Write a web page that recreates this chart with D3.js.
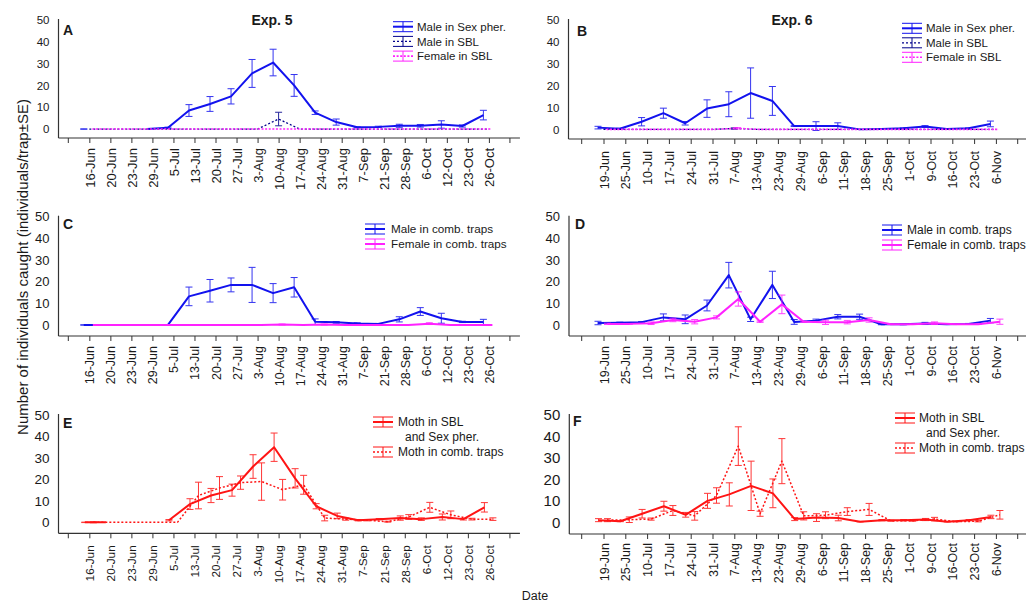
<!DOCTYPE html>
<html>
<head>
<meta charset="utf-8">
<script src="https://cdn.jsdelivr.net/npm/d3@7"></script>
<style>
  body { margin: 0; background: #fff; }
  svg { display: block; }
  text { font-family: "Liberation Sans", Arial, sans-serif; fill: #1a1a1a; }
</style>
</head>
<body>
<svg id="chart" width="1026" height="602"></svg>
<script>
// Sampling dates (categorical x axes)
const exp5Dates = ["16-Jun","20-Jun","23-Jun","29-Jun","5-Jul","13-Jul","20-Jul","27-Jul","3-Aug","10-Aug",
                   "17-Aug","24-Aug","31-Aug","7-Sep","21-Sep","28-Sep","6-Oct","12-Oct","23-Oct","26-Oct"];
const exp6Dates = ["19-Jun","25-Jun","10-Jul","17-Jul","24-Jul","31-Jul","7-Aug","13-Aug","23-Aug","29-Aug",
                   "6-Sep","11-Sep","18-Sep","25-Sep","1-Oct","9-Oct","16-Oct","23-Oct","6-Nov"];
const yTicks = [0, 10, 20, 30, 40, 50];

// Exp. 5 – single-bait traps (A)
const aMalePher     = [0, null, null, 0, 0.6, 8.5, 11.5, 15, 25.5, 30.5, 20, 7.5, 3.2, 0.8, 1, 1.5, 1.5, 2.1, 1.4, 6.4];
const aMalePherSE   = [0.1, 0, 0, 0, 0.3, 2.7, 3.4, 3.5, 6.4, 6.1, 5, 0.8, 1.4, 0.2, 0.3, 0.7, 0.6, 1.7, 0.5, 2.2];
const aMaleSBL      = [0, 0, 0, 0, 0, 0, 0, 0, 0, 4.6, 0, 0, 0, 0, 0, 0, 0, 0, 0, 0];
const aMaleSBLSE    = [0, 0, 0, 0, 0, 0, 0, 0, 0, 3.1, 0, 0, 0, 0, 0, 0, 0, 0, 0, 0];
const aFemaleSBL    = [0, 0, 0, 0, 0, 0, 0, 0, 0, 0, 0, 0, 0, 0, 0, 0, 0, 0, 0, 0];
const aFemaleSBLSE  = [0, 0, 0, 0, 0, 0, 0, 0, 0, 0, 0, 0, 0, 0, 0, 0, 0, 0, 0, 0];

// Exp. 6 – single-bait traps (B)
const bMalePher     = [0.8, 0.3, 3.5, 7.4, 2.8, 9.5, 11.5, 16.6, 13, 1.5, 1.5, 1.5, 0, 0.2, 0.5, 1.3, 0.2, 0.5, 2.5];
const bMalePherSE   = [0.6, 0.2, 1.9, 2.3, 0.8, 4, 5.7, 11.5, 6.6, 0.2, 2, 1.5, 0, 0.1, 0.2, 0.4, 0.1, 0.2, 1.3];
const bMaleSBL      = [0, 0, 0, 0, 0, 0, 0.4, 0, 0, 0, 0, 0, 0, 0, 0, 0, 0, 0, 0];
const bMaleSBLSE    = [0, 0, 0, 0, 0, 0, 0.3, 0, 0, 0, 0, 0, 0, 0, 0, 0, 0, 0, 0];
const bFemaleSBL    = [0, 0, 0, 0, 0, 0, 0.5, 0, 0, 0, 0, 0, 0, 0, 0, 0, 0, 0, 0];
const bFemaleSBLSE  = [0, 0, 0, 0, 0, 0, 0.3, 0, 0, 0, 0, 0, 0, 0, 0, 0, 0, 0, 0];

// Exp. 5 – combination traps (C)
const cMaleComb     = [0, 0, 0, 0, 0, 13.2, 15.8, 18.5, 18.5, 14.7, 17.4, 1.5, 1.2, 0.7, 0.5, 2.6, 6.2, 3.1, 1.4, 1.4];
const cMaleCombSE   = [0.1, 0, 0, 0, 0, 4.3, 5.2, 3.2, 8.1, 4.4, 4.5, 1.3, 0.4, 0.3, 0.2, 1.2, 1.8, 2.3, 0.3, 1.2];
const cFemaleComb   = [0, 0, 0, 0, 0, 0, 0, 0, 0, 0.2, 0, 0.2, 0, 0, 0, 0, 0.6, 0, 0, 0];
const cFemaleCombSE = [0, 0, 0, 0, 0, 0, 0, 0, 0, 0.2, 0, 0.2, 0, 0, 0, 0, 0.4, 0, 0, 0];

// Exp. 6 – combination traps (D)
const dMaleComb     = [0.9, 1, 1.3, 3.5, 2.6, 9, 23, 2.6, 18.5, 1.4, 2, 3.8, 3.8, 0.3, 0.3, 0.7, 0.3, 0.5, 2];
const dMaleCombSE   = [0.8, 0.3, 0.3, 1.6, 2, 2.5, 5.9, 1, 6.3, 1.1, 0.7, 1, 1.2, 0.2, 0.2, 0.5, 0.1, 0.2, 1];
const dFemaleComb   = [0.5, 0.5, 0.8, 2.3, 1.5, 3.5, 12, 1.5, 9.5, 1.5, 1.2, 1.3, 2.3, 0.3, 0.3, 0.8, 0.3, 0.3, 1.5];
const dFemaleCombSE = [0.3, 0.2, 0.6, 0.8, 1, 0.7, 3.3, 0.3, 4.3, 0.3, 1, 0.8, 1, 0.1, 0.1, 0.6, 0.1, 0.1, 1.2];

// Exp. 5 – all moths (E)
const eMothSBLPher   = [0, 0, null, null, 1, 8.5, 12.5, 15, 26, 35, 20.5, 7.5, 3, 1, 1.5, 2, 1.5, 2.5, 1.5, 7];
const eMothSBLPherSE = [0.1, 0, 0, 0, 0.3, 2.5, 3.3, 2.8, 5.5, 6.6, 4.5, 1.2, 1.3, 0.3, 0.3, 1, 0.6, 1.4, 0.4, 2.2];
const eMothComb      = [0, 0, 0, 0, 0, 12.5, 16, 18.5, 19, 15.2, 17.5, 2, 1.5, 1, 0.3, 2.5, 7, 3.5, 1.5, 1.5];
const eMothCombSE    = [0.2, 0, 0, 0, 0, 6.2, 5.3, 3.1, 8.7, 4.8, 4.4, 1.3, 0.5, 0.3, 0.2, 1.1, 2.3, 1.8, 0.4, 0.6];

// Exp. 6 – all moths (F)
const fMothSBLPher   = [1, 0.5, 4, 7.5, 3.5, 10, 13, 17, 13.5, 1.5, 2.2, 2, 0.3, 1, 1, 1.3, 0.3, 1, 2.5];
const fMothSBLPherSE = [0.7, 0.2, 2, 2.3, 1.1, 3.5, 5.4, 11.5, 6.7, 0.7, 1.8, 1.3, 0.1, 0.3, 0.3, 0.5, 0.1, 0.3, 0.8];
const fMothComb      = [1, 1.2, 1.5, 5.5, 3, 12.5, 35.5, 4, 28.5, 3, 3.3, 5, 6, 0.7, 0.7, 1.5, 0.3, 0.5, 3.5];
const fMothCombSE    = [0.7, 1.3, 0.5, 2.3, 2, 3.6, 9, 1.2, 10.5, 1.9, 1.6, 1.8, 2.8, 0.2, 0.2, 0.8, 0.1, 0.3, 2];

// Colours
const BLUE = "#1212ee", NAVY = "#00008c", PINK = "#ff22ff", RED = "#ff1414";

const svg = d3.select("#chart");

const panels = [
  { letter: "A", lx: 63, ly: 35, title: "Exp. 5", tx: 272, dates: exp5Dates,
    axisX: 58.5, tick0: 68.3, step: 21.03, top: 20, bottom: 138, yMin: -4.1, yFont: 11.5, xFont: 13, labelGap: 10,
    legend: { x: 393, y: 26.7, text: 417, gap: 14.7, font: 11.5 },
    series: [
      { lines: ["Male in Sex pher."], v: aMalePher, se: aMalePherSE, color: BLUE, dash: null, w: 2, dx: -5.5 },
      { lines: ["Male in SBL"], v: aMaleSBL, se: aMaleSBLSE, color: NAVY, dash: "2,2", w: 1.3, dx: 0 },
      { lines: ["Female in SBL"], v: aFemaleSBL, se: aFemaleSBLSE, color: PINK, dash: "2,1.6", w: 1.6, dx: 3 }
    ] },
  { letter: "B", lx: 577, ly: 36, title: "Exp. 6", tx: 792, dates: exp6Dates,
    axisX: 568.5, tick0: 581.7, step: 21.8, top: 20, bottom: 139, yMin: -4.4, yFont: 11.5, xFont: 12.5, labelGap: 12,
    legend: { x: 902, y: 28.3, text: 926, gap: 14.5, font: 11.5 },
    series: [
      { lines: ["Male in Sex pher."], v: bMalePher, se: bMalePherSE, color: BLUE, dash: null, w: 2, dx: -5.5 },
      { lines: ["Male in SBL"], v: bMaleSBL, se: bMaleSBLSE, color: NAVY, dash: "2,2", w: 1.3, dx: 0 },
      { lines: ["Female in SBL"], v: bFemaleSBL, se: bFemaleSBLSE, color: PINK, dash: "2,1.6", w: 1.6, dx: 3 }
    ] },
  { letter: "C", lx: 63, ly: 229, dates: exp5Dates,
    axisX: 58.5, tick0: 68.3, step: 21.03, top: 216.7, bottom: 336, yMin: -5.1, yFont: 13, xFont: 12.5, labelGap: 10,
    legend: { x: 365, y: 229, text: 391, gap: 15, font: 11.7 },
    series: [
      { lines: ["Male in comb. traps"], v: cMaleComb, se: cMaleCombSE, color: BLUE, dash: null, w: 2, dx: -5.5 },
      { lines: ["Female in comb. traps"], v: cFemaleComb, se: cFemaleCombSE, color: PINK, dash: null, w: 2, dx: 3.5 }
    ] },
  { letter: "D", lx: 575, ly: 229, dates: exp6Dates,
    axisX: 569, tick0: 581.7, step: 21.8, top: 216.7, bottom: 336, yMin: -5.1, yFont: 13, xFont: 12.5, labelGap: 10,
    legend: { x: 882, y: 230, text: 907, gap: 15, font: 12 },
    series: [
      { lines: ["Male in comb. traps"], v: dMaleComb, se: dMaleCombSE, color: BLUE, dash: null, w: 2, dx: -5.5 },
      { lines: ["Female in comb. traps"], v: dFemaleComb, se: dFemaleCombSE, color: PINK, dash: null, w: 2, dx: 4 }
    ] },
  { letter: "E", lx: 63, ly: 428, dates: exp5Dates,
    axisX: 58.5, tick0: 68.3, step: 21.03, top: 415, bottom: 533.3, yMin: -5.1, yFont: 13.5, xFont: 11.8, labelGap: 12,
    legend: { x: 373, y: 422, text: 398, gap: 15, font: 12 },
    series: [
      { lines: ["Moth in SBL", "and Sex pher."], v: eMothSBLPher, se: eMothSBLPherSE, color: RED, dash: null, w: 2, dx: -4.5 },
      { lines: ["Moth in comb. traps"], v: eMothComb, se: eMothCombSE, color: RED, dash: "2,2", w: 1.5, dx: 4 }
    ] },
  { letter: "F", lx: 573, ly: 426, dates: exp6Dates,
    axisX: 569.3, tick0: 581.7, step: 21.8, top: 415, bottom: 534, yMin: -5.45, yFont: 15, xFont: 12.5, labelGap: 9,
    legend: { x: 895, y: 418, text: 919, gap: 15, font: 12 },
    series: [
      { lines: ["Moth in SBL", "and Sex pher."], v: fMothSBLPher, se: fMothSBLPherSE, color: RED, dash: null, w: 2, dx: -5 },
      { lines: ["Moth in comb. traps"], v: fMothComb, se: fMothCombSE, color: RED, dash: "2,2", w: 1.5, dx: 4 }
    ] }
];

panels.forEach(p => {
  const g = svg.append("g");
  const n = p.dates.length;
  const lastTick = p.tick0 + (n + 1) * p.step;

  // categorical x scale: one empty slot on each side of the dates
  const x = d3.scalePoint().domain(p.dates).range([p.tick0, lastTick]).padding(1);
  const y = d3.scaleLinear().domain([p.yMin, 50]).range([p.bottom, p.top]);

  // y axis
  const yAx = g.append("g").attr("transform", `translate(${p.axisX},0)`)
    .call(d3.axisLeft(y).tickValues(yTicks).tickSize(0).tickPadding(9));
  yAx.select(".domain").remove();
  yAx.selectAll("text").style("font-size", p.yFont + "px").attr("fill", "#1a1a1a")
    .style("font-family", '"Liberation Sans", Arial, sans-serif');
  g.append("line").attr("x1", p.axisX).attr("x2", p.axisX).attr("y1", y(50) - 1).attr("y2", p.bottom)
    .attr("stroke", "#333").attr("stroke-width", 1.2);

  // x axis
  const xAx = g.append("g").attr("transform", `translate(0,${p.bottom})`)
    .call(d3.axisBottom(x).tickSize(5).tickSizeOuter(0));
  xAx.select(".domain").remove();
  xAx.selectAll("line").attr("stroke", "#333");
  xAx.selectAll("text")
    .style("font-size", p.xFont + "px")
    .style("font-family", '"Liberation Sans", Arial, sans-serif')
    .attr("fill", "#1a1a1a")
    .attr("transform", "rotate(-90)")
    .attr("text-anchor", "end")
    .attr("x", -p.labelGap).attr("y", 0).attr("dy", "0.36em");
  [p.tick0, lastTick].forEach(t => {
    g.append("line").attr("x1", t).attr("x2", t).attr("y1", p.bottom).attr("y2", p.bottom + 5)
      .attr("stroke", "#333");
  });
  g.append("line").attr("x1", p.axisX).attr("x2", lastTick + 10).attr("y1", p.bottom).attr("y2", p.bottom)
    .attr("stroke", "#333").attr("stroke-width", 1.2);

  // series: error bars + lines
  p.series.forEach(s => {
    const pts = p.dates.map((d, i) => ({ d, v: s.v[i], se: s.se[i] }));
    const px = d => x(d.d) + s.dx;
    const eb = g.append("g").attr("stroke", s.color).attr("stroke-width", 1).attr("opacity", 0.85);
    pts.filter(d => d.v != null && d.se > 0).forEach(d => {
      const cx = px(d), y1 = y(d.v - d.se), y2 = y(d.v + d.se);
      eb.append("line").attr("x1", cx).attr("x2", cx).attr("y1", y1).attr("y2", y2);
      eb.append("line").attr("x1", cx - 3.5).attr("x2", cx + 3.5).attr("y1", y1).attr("y2", y1);
      eb.append("line").attr("x1", cx - 3.5).attr("x2", cx + 3.5).attr("y1", y2).attr("y2", y2);
    });
    const line = d3.line().defined(d => d.v != null).x(px).y(d => y(d.v));
    g.append("path").datum(pts).attr("d", line).attr("fill", "none")
      .attr("stroke", s.color).attr("stroke-width", s.w)
      .attr("stroke-dasharray", s.dash).attr("stroke-linejoin", "round");
  });

  // legend
  const L = p.legend;
  let rowY = L.y;
  p.series.forEach(s => {
    const lg = g.append("g");
    const x0 = L.x, x1 = L.x + 20, xm = L.x + 10;
    lg.append("line").attr("x1", x0).attr("x2", x1).attr("y1", rowY - 5).attr("y2", rowY - 5)
      .attr("stroke", s.color).attr("stroke-width", 1);
    lg.append("line").attr("x1", x0).attr("x2", x1).attr("y1", rowY + 5).attr("y2", rowY + 5)
      .attr("stroke", s.color).attr("stroke-width", 1);
    lg.append("line").attr("x1", xm).attr("x2", xm).attr("y1", rowY - 5).attr("y2", rowY + 5)
      .attr("stroke", s.color).attr("stroke-width", 1);
    lg.append("line").attr("x1", x0).attr("x2", x1).attr("y1", rowY).attr("y2", rowY)
      .attr("stroke", s.color).attr("stroke-width", s.w).attr("stroke-dasharray", s.dash);
    s.lines.forEach((t, k) => {
      lg.append("text").attr("x", L.text + (k ? 7 : 0)).attr("y", rowY + k * L.gap)
        .attr("dy", "0.36em").style("font-size", L.font + "px").text(t);
    });
    rowY += L.gap * s.lines.length;
  });

  // panel letter and title
  g.append("text").attr("x", p.lx).attr("y", p.ly).style("font-size", "14px")
    .style("font-weight", "bold").text(p.letter);
  if (p.title) {
    g.append("text").attr("x", p.tx).attr("y", 25).attr("text-anchor", "middle")
      .style("font-size", "14px").style("font-weight", "bold").text(p.title);
  }
});

// shared axis titles
svg.append("text").attr("transform", "translate(28,267) rotate(-90)").attr("text-anchor", "middle")
  .style("font-size", "15px").text("Number of individuals caught (individuals/trap±SE)");
svg.append("text").attr("x", 535).attr("y", 600).attr("text-anchor", "middle")
  .style("font-size", "12.5px").text("Date");
</script>
</body>
</html>
